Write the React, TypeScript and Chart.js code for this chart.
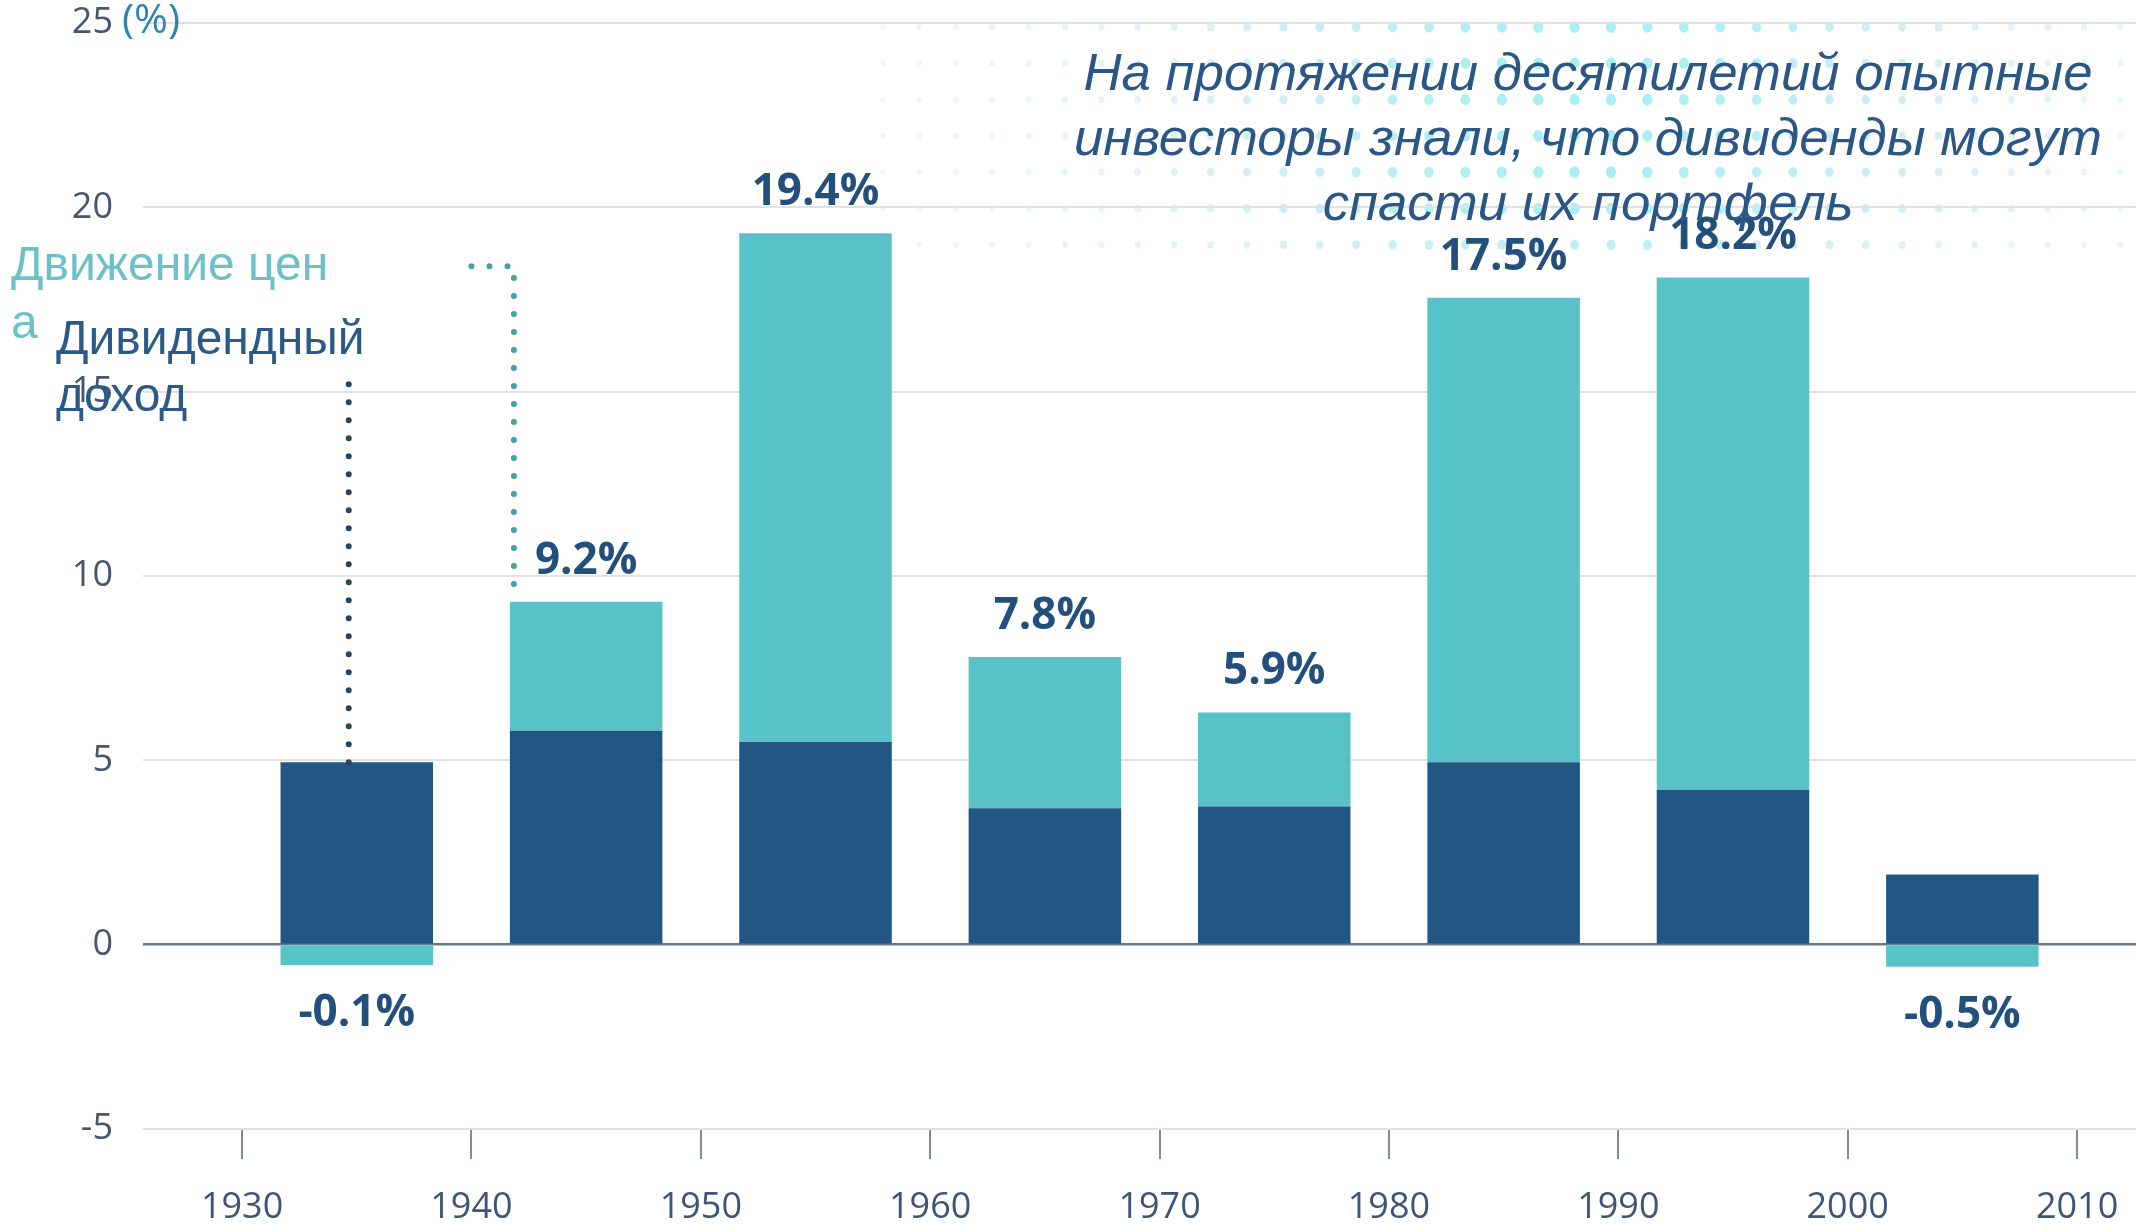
import React, { useEffect, useRef } from 'react';
import { Chart, registerables } from 'chart.js';

Chart.register(...registerables);

// ---- data ----
const decadeMid = [1935, 1945, 1955, 1965, 1975, 1985, 1995, 2005];
const dividendIncome = [4.95, 5.8, 5.5, 3.7, 3.75, 4.95, 4.2, 1.9];
const priceChange = [-0.55, 3.5, 13.8, 4.1, 2.55, 12.6, 13.9, -0.6];
const totalLabels = ['-0.1%', '9.2%', '19.4%', '7.8%', '5.9%', '17.5%', '18.2%', '-0.5%'];
const xTickYears = [1930, 1940, 1950, 1960, 1970, 1980, 1990, 2000, 2010];
const yTickValues = [-5, 0, 5, 10, 15, 20, 25];
const titleLines = [
  'На протяжении десятилетий опытные',
  'инвесторы знали, что дивиденды могут',
  'спасти их портфель',
];
const priceLegendLines = ['Движение цен', 'а'];
const dividendLegendLines = ['Дивидендный', 'доход'];
const yUnit = '(%)';

const DARK = '#235783';
const TEAL = '#58c2c9';

const overlayPlugin = {
  id: 'overlay',
  beforeDraw(chart: any) {
    const ctx = chart.ctx;
    ctx.save();
    // faint halftone dot pattern behind the title
    for (let r = 0; r < 7; r++) {
      const y = 27 + r * 36.3;
      for (let x = 883; x < 2136; x += 36.4) {
        const dx = (x - 1580) / 420;
        const g = Math.exp(-dx * dx);
        const vy = r === 6 ? 0.75 : 1;
        const k = g * vy;
        const alpha = 0.13 + 0.4 * k;
        const rad = 2.5 + 2.6 * k;
        const cr = Math.round(175 - 85 * k);
        const cg = Math.round(195 + 30 * k);
        const cb = Math.round(205 + 30 * k);
        ctx.fillStyle = `rgba(${cr}, ${cg}, ${cb}, ${alpha.toFixed(3)})`;
        ctx.beginPath();
        ctx.ellipse(x, y, rad, rad * 1.15, 0, 0, Math.PI * 2);
        ctx.fill();
      }
    }
    ctx.restore();
  },
  afterDatasetsDraw(chart: any) {
    const ctx = chart.ctx;
    const xs = chart.scales.x;
    const ys = chart.scales.y;
    ctx.save();
    ctx.font = 'bold 44px "Open Sans", sans-serif';
    ctx.fillStyle = '#234f7d';
    ctx.textAlign = 'center';
    ctx.textBaseline = 'alphabetic';
    decadeMid.forEach((yr, i) => {
      const px = xs.getPixelForValue(yr);
      if (priceChange[i] >= 0) {
        const top = ys.getPixelForValue(dividendIncome[i] + priceChange[i]);
        ctx.fillText(totalLabels[i], px, top - 28);
      } else {
        const bottom = ys.getPixelForValue(priceChange[i]);
        ctx.fillText(totalLabels[i], px, bottom + 61);
      }
    });
    ctx.restore();
  },
  afterDraw(chart: any) {
    const ctx = chart.ctx;
    const xs = chart.scales.x;
    const ys = chart.scales.y;
    ctx.save();

    // unit label next to "25"
    ctx.font = '41px "Open Sans", sans-serif';
    ctx.fillStyle = '#2f84ad';
    ctx.textAlign = 'left';
    ctx.textBaseline = 'middle';
    ctx.fillText(yUnit, ys.right - 21, ys.getPixelForValue(25) - 2);

    // dotted leader lines
    ctx.lineCap = 'round';
    ctx.lineWidth = 6;
    ctx.setLineDash([0, 18]);
    // dividend leader
    ctx.strokeStyle = '#2d4163';
    const dx = xs.getPixelForValue(1934.65);
    ctx.beginPath();
    ctx.moveTo(dx, ys.getPixelForValue(15.2));
    ctx.lineTo(dx, ys.getPixelForValue(dividendIncome[0]) + 2);
    ctx.stroke();
    // price leader
    ctx.strokeStyle = '#3fa2ab';
    const hx0 = xs.getPixelForValue(1940.0);
    const hx1 = xs.getPixelForValue(1941.85);
    const hy = ys.getPixelForValue(18.4);
    ctx.beginPath();
    ctx.moveTo(hx0, hy);
    ctx.lineTo(hx1, hy);
    ctx.lineTo(hx1, ys.getPixelForValue(dividendIncome[1] + priceChange[1]) - 8);
    ctx.stroke();
    ctx.setLineDash([]);

    // legend labels
    ctx.font = '48px "Liberation Sans", Arial, sans-serif';
    ctx.textAlign = 'left';
    ctx.textBaseline = 'alphabetic';
    ctx.fillStyle = '#6cc1c9';
    ctx.fillText(priceLegendLines[0], 11, 280);
    ctx.fillText(priceLegendLines[1], 11, 338);
    ctx.fillStyle = '#2b5a88';
    ctx.fillText(dividendLegendLines[0], 56, 354);
    ctx.fillText(dividendLegendLines[1], 56, 411);

    // title
    ctx.font = 'italic 52px "Liberation Sans Narrow", "Liberation Sans", Arial, sans-serif';
    ctx.fillStyle = '#2b5786';
    ctx.textAlign = 'center';
    const w0 = ctx.measureText(titleLines[0]).width;
    const s = w0 > 0 ? 1009 / w0 : 1;
    const baselines = [90, 155, 220];
    titleLines.forEach((line, i) => {
      ctx.save();
      ctx.translate(1588, baselines[i]);
      ctx.scale(s, 1);
      ctx.fillText(line, 0, 0);
      ctx.restore();
    });

    ctx.restore();
  },
};

export default function App() {
  const ref = useRef<HTMLCanvasElement | null>(null);
  useEffect(() => {
    if (!ref.current) return;
    const chart = new Chart(ref.current, {
      type: 'bar',
      data: {
        datasets: [
          {
            label: 'Дивидендный доход',
            data: decadeMid.map((x, i) => ({ x, y: dividendIncome[i] })),
            backgroundColor: DARK,
            categoryPercentage: 1,
            barPercentage: 0.665,
          },
          {
            label: 'Движение цены',
            data: decadeMid.map((x, i) => ({ x, y: priceChange[i] })),
            backgroundColor: TEAL,
            categoryPercentage: 1,
            barPercentage: 0.665,
          },
        ],
      },
      options: {
        animation: false,
        responsive: false,
        maintainAspectRatio: false,
        layout: { padding: { left: 0, right: 0, top: 0, bottom: 0 } },
        plugins: {
          legend: { display: false },
          tooltip: { enabled: false },
          title: { display: false },
        },
        scales: {
          x: {
            type: 'linear',
            stacked: true,
            min: 1925.68,
            max: 2012.57,
            offset: false,
            afterBuildTicks: (axis: any) => {
              axis.ticks = xTickYears.map((v) => ({ value: v }));
            },
            afterFit: (scale: any) => {
              scale.height = 96;
              scale.paddingLeft = 0;
              scale.paddingRight = 0;
            },
            grid: {
              offset: false,
              drawOnChartArea: false,
              drawTicks: true,
              tickLength: 30,
              color: '#7d8aa0',
              lineWidth: 2,
            },
            border: { display: false },
            ticks: {
              autoSkip: false,
              maxRotation: 0,
              padding: 27,
              color: '#3e5578',
              font: { family: '"Open Sans", sans-serif', size: 36 },
              callback: (v: any) => String(v),
            },
          },
          y: {
            type: 'linear',
            stacked: true,
            min: -5,
            max: 25,
            afterBuildTicks: (axis: any) => {
              axis.ticks = yTickValues.map((v) => ({ value: v }));
            },
            afterFit: (scale: any) => {
              scale.width = 143;
              scale.paddingTop = 23;
              scale.paddingBottom = 0;
            },
            grid: {
              drawTicks: false,
              color: (c: any) => (c.tick && c.tick.value === 0 ? '#67778c' : '#e1e1e1'),
              lineWidth: (c: any) => (c.tick && c.tick.value === 0 ? 2.5 : 2),
            },
            border: { display: false },
            ticks: {
              padding: 30,
              color: '#465570',
              font: { family: '"Open Sans", sans-serif', size: 36 },
              callback: (v: any) => String(v),
            },
          },
        },
      },
      plugins: [overlayPlugin],
    });
    return () => chart.destroy();
  }, []);
  return (
    <div style={{ position: 'fixed', left: 0, top: 0, width: 2136, height: 1225, background: '#ffffff' }}>
      <canvas ref={ref} width={2136} height={1225} style={{ width: 2136, height: 1225, display: 'block' }} />
    </div>
  );
}
